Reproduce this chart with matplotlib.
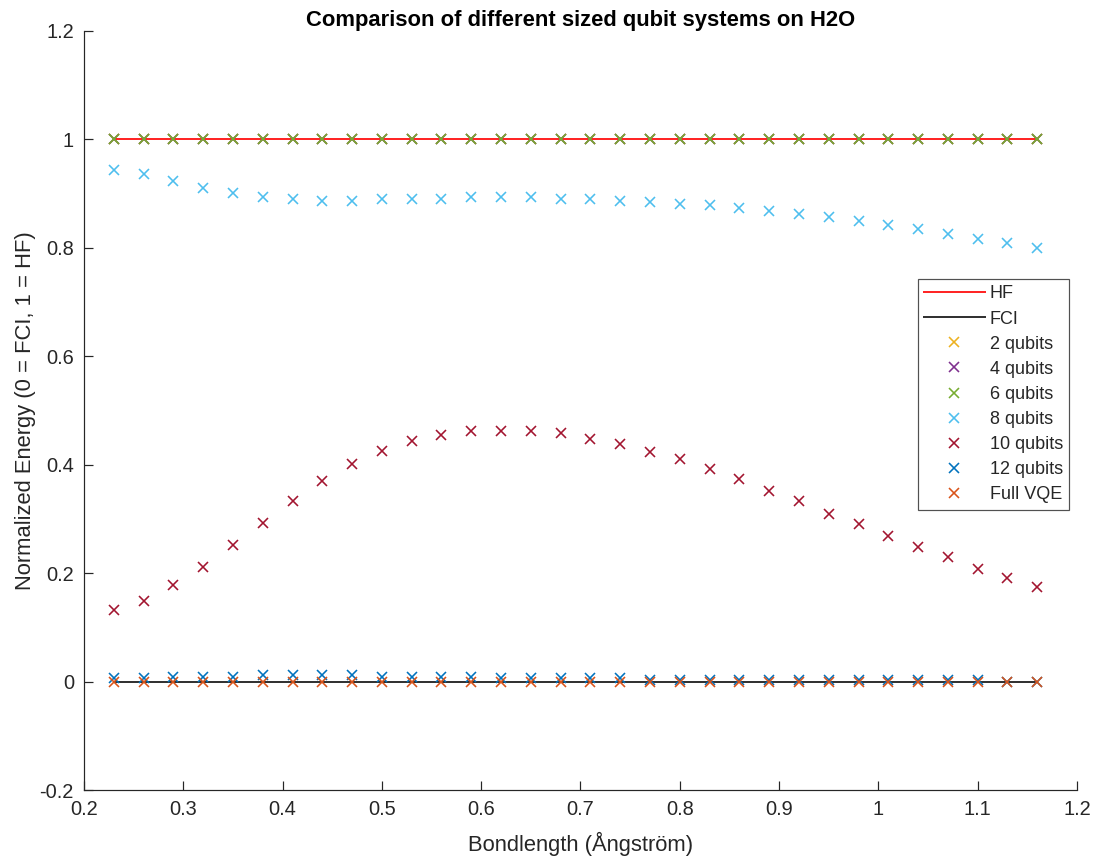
import matplotlib
matplotlib.use("Agg")
import matplotlib.pyplot as plt
from matplotlib.ticker import FuncFormatter

# Bond lengths (Angstrom)
bondlength = [0.23, 0.26, 0.29, 0.32, 0.35, 0.38, 0.41, 0.44, 0.47, 0.50,
              0.53, 0.56, 0.59, 0.62, 0.65, 0.68, 0.71, 0.74, 0.77, 0.80,
              0.83, 0.86, 0.89, 0.92, 0.95, 0.98, 1.01, 1.04, 1.07, 1.10,
              1.13, 1.16]

# Reference energies after normalisation
hf_level = 1.0
fci_level = 0.0

# Normalised energies for each active-space size
q2 = [1.0] * 32
q4 = [1.0] * 32
q6 = [1.0] * 32
q8 = [0.944, 0.936, 0.924, 0.911, 0.902, 0.894, 0.890, 0.887, 0.887, 0.891,
      0.890, 0.890, 0.894, 0.894, 0.894, 0.891, 0.891, 0.887, 0.885, 0.881,
      0.879, 0.873, 0.868, 0.862, 0.857, 0.849, 0.843, 0.834, 0.826, 0.817,
      0.809, 0.800]
q10 = [0.132, 0.149, 0.178, 0.211, 0.251, 0.293, 0.333, 0.370, 0.401, 0.426,
       0.443, 0.455, 0.463, 0.463, 0.463, 0.458, 0.448, 0.438, 0.423, 0.410,
       0.392, 0.373, 0.352, 0.333, 0.310, 0.290, 0.268, 0.248, 0.229, 0.208,
       0.191, 0.174]
q12 = [0.007, 0.007, 0.008, 0.008, 0.008, 0.012, 0.012, 0.012, 0.012, 0.008,
       0.008, 0.008, 0.008, 0.006, 0.006, 0.006, 0.006, 0.006, 0.002, 0.002,
       0.002, 0.002, 0.002, 0.002, 0.002, 0.002, 0.002, 0.002, 0.002, 0.002,
       0.000, 0.000]
full_vqe = [0.0] * 32

series_labels = ["2 qubits", "4 qubits", "6 qubits", "8 qubits",
                 "10 qubits", "12 qubits", "Full VQE"]
series_values = [q2, q4, q6, q8, q10, q12, full_vqe]
series_colors = [(0.929, 0.694, 0.125), (0.494, 0.184, 0.556),
                 (0.466, 0.674, 0.188), (0.301, 0.745, 0.933),
                 (0.635, 0.078, 0.184), (0.000, 0.447, 0.741),
                 (0.850, 0.325, 0.098)]

axis_gray = (0.15, 0.15, 0.15)
plt.rcParams["font.family"] = ["Liberation Sans", "DejaVu Sans"]

DPI = 144
fig = plt.figure(figsize=(1103 / DPI, 859 / DPI), dpi=DPI)
ax = fig.add_axes([84 / 1103, 69 / 859, 993 / 1103, 759 / 859])

x_lo, x_hi = bondlength[0], bondlength[-1]
ax.plot([x_lo, x_hi], [hf_level, hf_level], color=(1.0, 0.15, 0.15),
        lw=1.0, label="HF")
ax.plot([x_lo, x_hi], [fci_level, fci_level], color=(0.2, 0.2, 0.2),
        lw=1.0, label="FCI")
for lab, vals, col in zip(series_labels, series_values, series_colors):
    ax.plot(bondlength, vals, linestyle="none", marker="x", color=col,
            markersize=4.8, markeredgewidth=0.8, label=lab)

ax.set_xlim(0.2, 1.2)
ax.set_ylim(-0.2, 1.2)
ax.set_xticks([0.2, 0.3, 0.4, 0.5, 0.6, 0.7, 0.8, 0.9, 1.0, 1.1, 1.2])
ax.set_yticks([-0.2, 0.0, 0.2, 0.4, 0.6, 0.8, 1.0, 1.2])
fmt = FuncFormatter(lambda v, p: "%g" % round(v, 2) if abs(v) > 1e-9 else "0")
ax.xaxis.set_major_formatter(fmt)
ax.yaxis.set_major_formatter(fmt)

for side in ("top", "right"):
    ax.spines[side].set_visible(False)
for side in ("left", "bottom"):
    ax.spines[side].set_color(axis_gray)
    ax.spines[side].set_linewidth(0.6)
ax.tick_params(direction="in", length=4.5, width=0.6, colors=axis_gray,
               labelsize=10, pad=5)

ax.set_xlabel("Bondlength (Ångström)", fontsize=11, color=axis_gray,
              labelpad=6.5)
ax.set_ylabel("Normalized Energy (0 = FCI, 1 = HF)", fontsize=11,
              color=axis_gray, labelpad=2)
ax.set_title("Comparison of different sized qubit systems on H2O",
             fontsize=11, fontweight="bold", color="black", pad=2.5)

leg = ax.legend(loc="upper right", bbox_to_anchor=(0.992, 0.673),
                fontsize=9, frameon=True, fancybox=False,
                handlelength=3.4, handletextpad=0.25, labelspacing=0.45,
                borderpad=0.35, borderaxespad=0.0)
leg.get_frame().set_edgecolor(axis_gray)
leg.get_frame().set_linewidth(0.6)
for t in leg.get_texts():
    t.set_color(axis_gray)

fig.savefig("out.png", dpi=DPI)
